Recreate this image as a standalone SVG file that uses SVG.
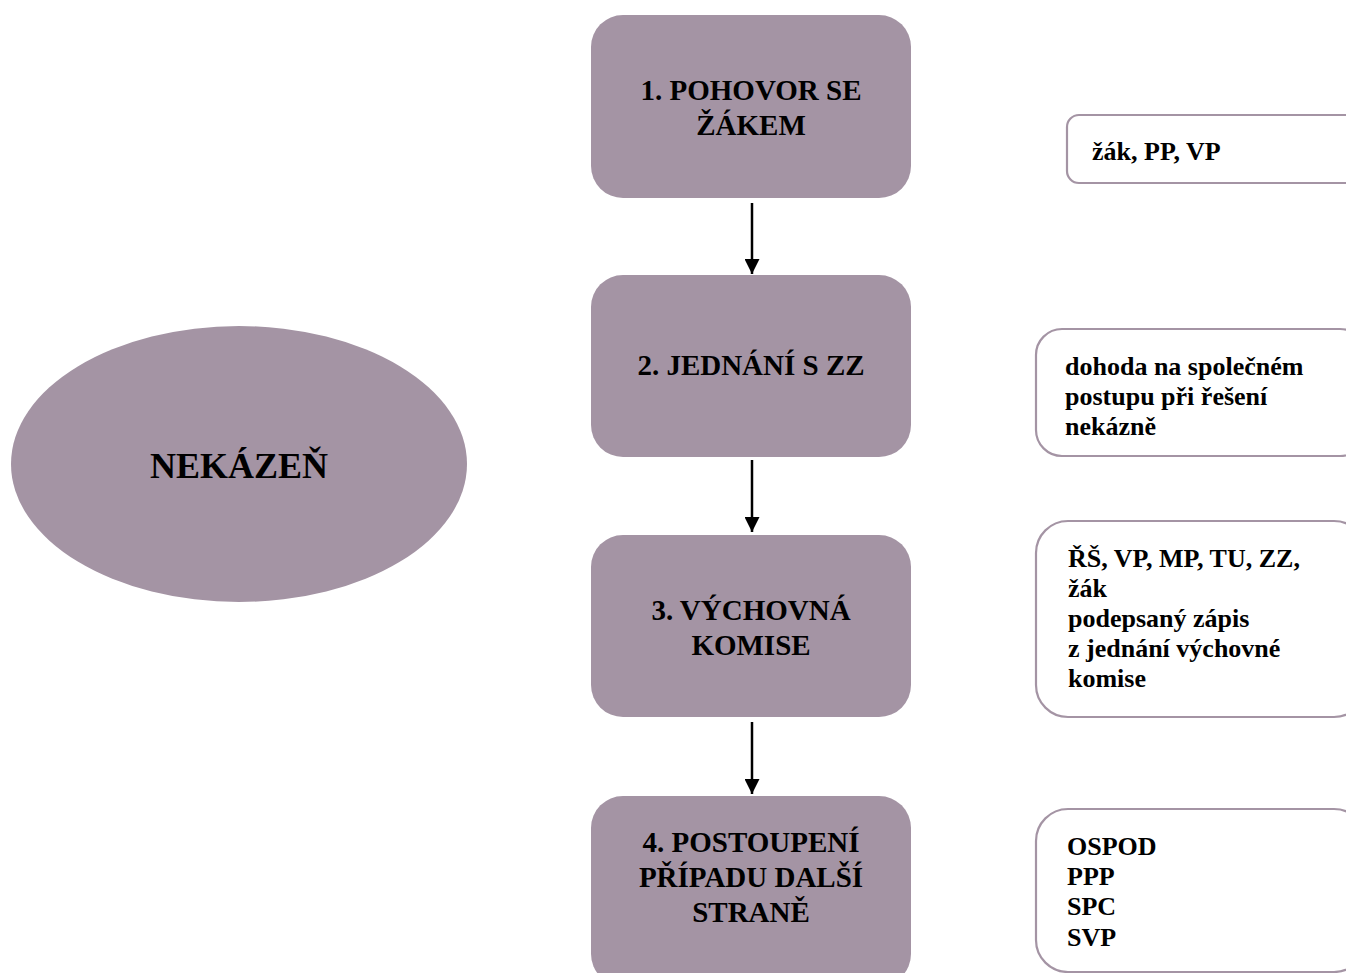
<svg xmlns="http://www.w3.org/2000/svg" width="1346" height="973" viewBox="0 0 1346 973">
<style>
.step{fill:#a494a4;}
.note{fill:#ffffff;stroke:#a494a4;stroke-width:2.2;}
.t{font-family:'Liberation Serif','Tinos','Times New Roman','DejaVu Serif',serif;font-weight:700;fill:#000;}
.m{font-size:29px;text-anchor:middle;}
.n{font-size:26px;}
.conn{stroke:#000;stroke-width:2.5;fill:none;}
</style>
<defs>
<marker id="ah" viewBox="0 0 10 10" refX="10" refY="5" markerWidth="15" markerHeight="15" markerUnits="userSpaceOnUse" orient="auto">
<path d="M0,0 L10,5 L0,10 Z" fill="#000"/>
</marker>
</defs>
<rect width="1346" height="973" fill="#fff"/>
<g id="nekazen">
<ellipse cx="239" cy="464" rx="228" ry="138" class="step"/>
<text x="239" y="478" class="t" font-family="Liberation Serif, serif" font-size="36" text-anchor="middle">NEKÁZEŇ</text>
</g>
<g id="step1">
<rect x="591" y="15" width="320" height="183" rx="32" class="step"/>
<text class="t m" font-family="Liberation Serif, serif"><tspan x="751" y="100">1. POHOVOR SE</tspan><tspan x="751" y="135">ŽÁKEM</tspan></text>
</g>
<g id="step2">
<rect x="591" y="275" width="320" height="182" rx="32" class="step"/>
<text x="751" y="375" class="t m" font-family="Liberation Serif, serif">2. JEDNÁNÍ S ZZ</text>
</g>
<g id="step3">
<rect x="591" y="535" width="320" height="182" rx="32" class="step"/>
<text class="t m" font-family="Liberation Serif, serif"><tspan x="751" y="620">3. VÝCHOVNÁ</tspan><tspan x="751" y="655">KOMISE</tspan></text>
</g>
<g id="step4">
<rect x="591" y="796" width="320" height="190" rx="32" class="step"/>
<text class="t m" font-family="Liberation Serif, serif"><tspan x="751" y="852">4. POSTOUPENÍ</tspan><tspan x="751" y="887">PŘÍPADU DALŠÍ</tspan><tspan x="751" y="922">STRANĚ</tspan></text>
</g>
<g id="note1">
<rect x="1067" y="115" width="300" height="68" rx="12" class="note"/>
<text x="1092" y="160" class="t n" font-family="Liberation Serif, serif">žák, PP, VP</text>
</g>
<g id="note2">
<rect x="1036" y="329" width="330" height="127" rx="26" class="note"/>
<text class="t n" font-family="Liberation Serif, serif"><tspan x="1065" y="375">dohoda na společném</tspan><tspan x="1065" y="405">postupu při řešení</tspan><tspan x="1065" y="435">nekázně</tspan></text>
</g>
<g id="note3">
<rect x="1036" y="521" width="330" height="196" rx="32" class="note"/>
<text class="t n" font-family="Liberation Serif, serif"><tspan x="1068" y="567">ŘŠ, VP, MP, TU, ZZ,</tspan><tspan x="1068" y="597">žák</tspan><tspan x="1068" y="627">podepsaný zápis</tspan><tspan x="1068" y="657">z jednání výchovné</tspan><tspan x="1068" y="687">komise</tspan></text>
</g>
<g id="note4">
<rect x="1036" y="809" width="330" height="163" rx="32" class="note"/>
<text class="t n" font-family="Liberation Serif, serif"><tspan x="1067" y="855">OSPOD</tspan><tspan x="1067" y="885">PPP</tspan><tspan x="1067" y="915">SPC</tspan><tspan x="1067" y="946">SVP</tspan></text>
</g>
<g id="connectors">
<line x1="752" y1="203" x2="752" y2="274" class="conn" marker-end="url(#ah)"/>
<line x1="752" y1="460" x2="752" y2="532" class="conn" marker-end="url(#ah)"/>
<line x1="752" y1="722" x2="752" y2="794" class="conn" marker-end="url(#ah)"/>
</g>
</svg>
